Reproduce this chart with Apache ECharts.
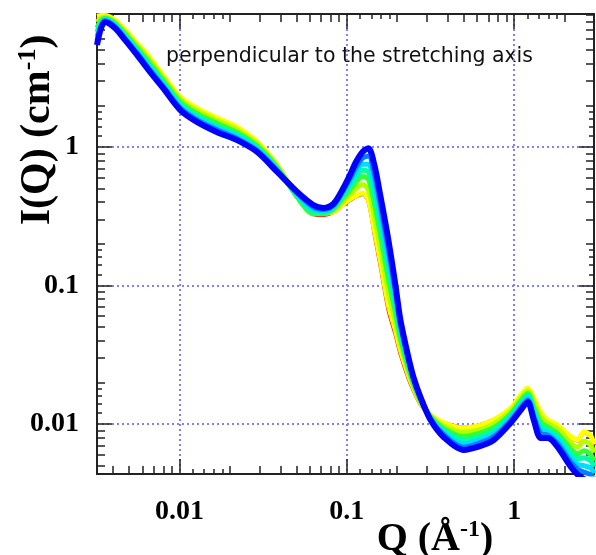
<!DOCTYPE html>
<html><head><meta charset="utf-8">
<script src="https://cdn.jsdelivr.net/npm/echarts@6/dist/echarts.min.js"></script>
<style>html,body{margin:0;padding:0;background:#fff}#c{width:596px;height:555px}</style>
</head><body><div id="c"></div>
<script>
// Q values (Å^-1)
const Q = [0.00321,0.00339,0.00358,0.00411,0.00472,0.00557,0.00666,0.00796,0.0101,0.0127,0.0168,0.0221,0.0291,0.0384,0.0505,0.063,0.0723,0.083,0.0953,0.105,0.1125,0.124,0.1345,0.146,0.159,0.177,0.195,0.209,0.233,0.25,0.275,0.316,0.378,0.499,0.604,0.754,0.953,1.094,1.205,1.309,1.442,1.589,1.82,2.18,2.4,2.61,2.87,3.0];
// I(Q) curves (cm^-1), from first (red/yellow) to last (blue)
const I_red = [8.4,8.7,8.8,8.15,6.9,5.52,4.28,3.23,2.24,1.86,1.57,1.35,1.07,0.73,0.432,0.326,0.322,0.338,0.383,0.415,0.437,0.458,0.405,0.238,0.138,0.067,0.0445,0.0322,0.0215,0.0175,0.0139,0.0115,0.0102,0.0094,0.0097,0.0107,0.0129,0.016,0.018,0.0152,0.012,0.0106,0.0097,0.008,0.0076,0.0087,0.0081,0.007];
const I_yellow = [8.8,8.9,8.9,8.26,7.0,5.63,4.39,3.31,2.30,1.91,1.62,1.39,1.09,0.741,0.443,0.340,0.334,0.340,0.388,0.421,0.443,0.466,0.414,0.252,0.148,0.0723,0.0477,0.0342,0.0226,0.0182,0.0142,0.0116,0.0102,0.00935,0.00968,0.0107,0.0130,0.0162,0.0182,0.0154,0.0122,0.0107,0.0098,0.0081,0.0077,0.0088,0.0082,0.0071];
const I_lime = [7.98,8.53,8.7,8.05,6.77,5.41,4.19,3.17,2.2,1.83,1.55,1.33,1.05,0.724,0.44,0.335,0.332,0.35,0.41,0.458,0.495,0.535,0.49,0.312,0.183,0.0895,0.055,0.0378,0.024,0.0189,0.0145,0.0114,0.0097,0.0087,0.009,0.01,0.0124,0.0154,0.0174,0.0144,0.0112,0.0101,0.0092,0.0073,0.0068,0.0075,0.007,0.0062];
const I_green = [7.26,8.17,8.5,7.83,6.55,5.2,3.99,3.03,2.11,1.74,1.48,1.27,1.02,0.708,0.435,0.33,0.33,0.357,0.433,0.497,0.553,0.612,0.584,0.39,0.23,0.112,0.064,0.0416,0.0255,0.0196,0.0148,0.0113,0.0093,0.0081,0.0085,0.0094,0.0118,0.0147,0.0166,0.0133,0.0103,0.0095,0.0085,0.0066,0.0061,0.0064,0.006,0.0054];
const I_spring = [6.76,7.91,8.4,7.7,6.38,5.04,3.86,2.93,2.04,1.68,1.42,1.23,0.99,0.696,0.445,0.34,0.338,0.362,0.45,0.528,0.6,0.68,0.66,0.46,0.27,0.131,0.071,0.0448,0.0267,0.0201,0.015,0.0111,0.009,0.0077,0.008,0.009,0.0115,0.0142,0.0161,0.0126,0.0097,0.0091,0.0081,0.0062,0.0056,0.0057,0.0054,0.0049];
const I_cyan = [6.28,7.67,8.25,7.55,6.22,4.9,3.72,2.84,1.97,1.63,1.37,1.19,0.967,0.684,0.455,0.355,0.345,0.37,0.468,0.56,0.65,0.75,0.75,0.535,0.315,0.153,0.08,0.048,0.028,0.0207,0.0152,0.011,0.0087,0.0072,0.0076,0.0085,0.0111,0.0136,0.0155,0.0119,0.0091,0.0087,0.0077,0.0057,0.0051,0.005,0.0048,0.0044];
const I_azure = [5.85,7.43,8.15,7.4,6.07,4.76,3.6,2.75,1.91,1.57,1.33,1.15,0.945,0.672,0.465,0.368,0.354,0.378,0.487,0.6,0.705,0.83,0.86,0.63,0.37,0.18,0.09,0.052,0.0292,0.0212,0.0155,0.0108,0.0084,0.0068,0.0072,0.0081,0.0106,0.0131,0.0149,0.0113,0.0085,0.0083,0.0072,0.0053,0.0047,0.0045,0.0043,0.004];
const I_blue = [5.45,7.2,8.0,7.23,5.93,4.62,3.48,2.67,1.85,1.52,1.28,1.12,0.92,0.66,0.473,0.381,0.363,0.388,0.506,0.638,0.766,0.92,0.98,0.741,0.436,0.213,0.101,0.0564,0.0305,0.0218,0.0157,0.0107,0.00806,0.00649,0.00682,0.00766,0.0102,0.0126,0.0144,0.0107,0.0079,0.0079,0.0068,0.0049,0.0043,0.0040,0.0038,0.0036];

// tick values
const xMid = [0.004,0.005,0.006,0.007,0.008,0.009,0.02,0.03,0.04,0.05,0.06,0.07,0.08,0.09,0.2,0.3,0.4,0.5,0.6,0.7,0.8,0.9,2,3];
const xSmall = [0.012,0.014,0.016,0.018,0.12,0.14,0.16,0.18,1.2,1.4,1.6,1.8];
const yMid = [0.005,0.006,0.007,0.008,0.009,0.02,0.03,0.04,0.05,0.06,0.07,0.08,0.09,0.2,0.3,0.4,0.5,0.6,0.7,0.8,0.9,2,3,4,5,6,7,8,9];
const ySmall = [0.012,0.014,0.016,0.018,0.12,0.14,0.16,0.18,1.2,1.4,1.6,1.8];

const XMIN = 0.00321, XMAX = 3.0, YMIN = 0.00435, YMAX = 9.13;
const AX = '#222';
const LBL = {show:true, fontFamily:'Liberation Serif', fontWeight:'bold', fontSize:28, color:'#000', showMinLabel:false, showMaxLabel:false};
const GRIDLINE = {show:true, lineStyle:{color:'#8080ff', width:2, type:[2,3]}};

function mkAxis(kind, pos, vals, len, isMain, hasLabel){
  const isX = kind === 'x';
  const a = {type:'log', logBase:10, min:isX?XMIN:YMIN, max:isX?XMAX:YMAX, position:pos, gridIndex:0,
    axisLine:{show:isMain, onZero:false, lineStyle:{color:AX, width:2}},
    axisTick:{show:true, inside:true, length:len, lineStyle:{color:AX, width:1.5}},
    axisLabel: hasLabel ? Object.assign({margin: isX?24:18}, LBL) : {show:false},
    splitLine: hasLabel ? GRIDLINE : {show:false},
    minorTick:{show:false}, minorSplitLine:{show:false}};
  if (vals) a.axisTick.customValues = vals;
  return a;
}

const curves = [
  ['red', I_red, '#ff1a1a', 4],
  ['yellow', I_yellow, '#ffff00', 5],
  ['lime', I_lime, '#b4ff00', 5],
  ['green', I_green, '#33ff33', 5],
  ['spring', I_spring, '#00ffa0', 5],
  ['cyan', I_cyan, '#00ddff', 5],
  ['azure', I_azure, '#0080ff', 5],
  ['blue', I_blue, '#0000ff', 6]
];

const chart = echarts.init(document.getElementById('c'), null, {renderer:'canvas'});
chart.setOption({
  animation:false,
  backgroundColor:'#fff',
  grid:{left:97, top:14, width:497, height:460, containLabel:false, outerBoundsMode:'none'},
  xAxis:[
    mkAxis('x','bottom',null,15,true,true),
    mkAxis('x','bottom',xMid,8,false,false),
    mkAxis('x','bottom',xSmall,5,false,false),
    mkAxis('x','top',null,15,true,false),
    mkAxis('x','top',xMid,8,false,false),
    mkAxis('x','top',xSmall,5,false,false)
  ],
  yAxis:[
    mkAxis('y','left',null,15,true,true),
    mkAxis('y','left',yMid,8,false,false),
    mkAxis('y','left',ySmall,5,false,false),
    mkAxis('y','right',null,15,true,false),
    mkAxis('y','right',yMid,8,false,false),
    mkAxis('y','right',ySmall,5,false,false)
  ],
  series: curves.map(c => ({
    name:c[0], type:'line', xAxisIndex:0, yAxisIndex:0, showSymbol:false, symbol:'none', smooth:0.3,
    data: Q.map((q,i)=>[q, c[1][i]]),
    lineStyle:{color:c[2], width:c[3]}, clip:true, silent:true
  })),
  graphic:[
    {type:'text', left:166, top:46, style:{text:'perpendicular to the stretching axis', font:'20.5px "DejaVu Sans"', fill:'#111'}},
    {type:'text', x:435, y:540, style:{text:'{a|Q (Å}{s|-1}{a|)}', align:'center', verticalAlign:'middle',
      rich:{a:{font:'bold 40px "Liberation Serif"', fill:'#000', lineHeight:44}, s:{font:'bold 24px "Liberation Serif"', fill:'#000', verticalAlign:'top', lineHeight:44}}}},
    {type:'text', x:38, y:130, rotation:Math.PI/2, style:{text:'{a|I(Q) (cm}{s|-1}{a|)}', align:'center', verticalAlign:'middle',
      rich:{a:{font:'bold 42px "Liberation Serif"', fill:'#000', lineHeight:46}, s:{font:'bold 26px "Liberation Serif"', fill:'#000', verticalAlign:'top', lineHeight:46}}}}
  ]
});
</script></body></html>
